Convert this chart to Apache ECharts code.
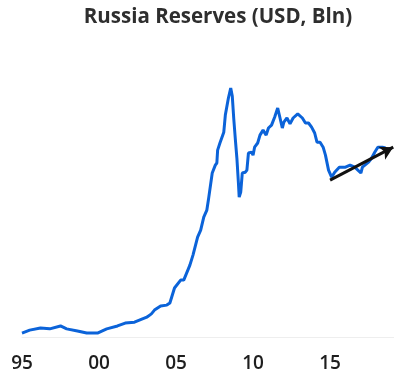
<!DOCTYPE html>
<html>
<head>
<meta charset="utf-8">
<script src="https://cdn.jsdelivr.net/npm/echarts@6/dist/echarts.min.js"></script>
<style>
  html, body { margin: 0; padding: 0; background: #ffffff; }
  #chart { width: 394px; height: 375px; }
</style>
</head>
<body>
<div id="chart"></div>
<script>
// Russia's international reserves, USD billions (decimal year, value)
const years = [
  1995.0, 1995.5, 1996.2, 1996.8, 1997.5, 1997.9, 1998.6, 1999.2, 1999.9, 2000.5,
  2001.2, 2001.7, 2002.3, 2003.1, 2003.4, 2003.6, 2004.0, 2004.4, 2004.6, 2004.9,
  2005.3, 2005.5, 2005.9, 2006.1, 2006.4, 2006.6, 2006.8, 2007.0, 2007.1, 2007.35,
  2007.55, 2007.65, 2007.7, 2007.85, 2008.1, 2008.2, 2008.4, 2008.55, 2008.65, 2008.75,
  2008.85, 2008.95, 2009.05, 2009.1, 2009.2, 2009.3, 2009.5, 2009.6, 2009.7, 2009.9,
  2010.0, 2010.1, 2010.3, 2010.45, 2010.65, 2010.85, 2011.0, 2011.2, 2011.4, 2011.6,
  2011.75, 2011.9, 2012.0, 2012.2, 2012.4, 2012.6, 2012.9, 2013.2, 2013.4, 2013.6,
  2013.8, 2014.0, 2014.15, 2014.35, 2014.55, 2014.7, 2014.9, 2015.1, 2015.3, 2015.6,
  2016.0, 2016.3, 2016.6, 2017.0, 2017.1, 2017.5, 2017.7, 2017.9, 2018.1, 2018.4,
  2018.6
];
const reserves = [
  10, 17, 22, 20, 27, 20, 15, 10, 10, 20,
  27, 34, 36, 48, 56, 65, 75, 77, 82, 118,
  137, 137, 173, 197, 240, 257, 288, 305, 329, 394,
  413, 418, 449, 466, 492, 533, 574, 598, 579, 523,
  475, 430, 370, 336, 348, 394, 396, 401, 442, 444,
  437, 456, 466, 485, 497, 485, 502, 509, 528, 550,
  526, 502, 516, 526, 512, 526, 536, 526, 514, 514,
  504, 490, 468, 468, 456, 437, 401, 384, 396, 408,
  408, 413, 408, 394, 408, 420, 430, 444, 456, 456,
  454
];

// Trend arrow from the 2015 low onward: [year, value] start and end
const trendStart = [2015.0, 377];
const trendEnd = [2019.1, 456];

// Axis tick labels shown every five years
const tickYears = [1995, 2000, 2005, 2010, 2015];
const tickLabels = ['95', '00', '05', '10', '15'];

const seriesData = years.map((y, i) => [y, reserves[i]]);

const chart = echarts.init(document.getElementById('chart'));
chart.setOption({
  animation: false,
  backgroundColor: '#ffffff',
  title: {
    text: 'Russia Reserves (USD, Bln)',
    left: 213,
    textAlign: 'center',
    top: 2,
    textStyle: {
      fontFamily: 'Open Sans',
      fontWeight: 'bold',
      fontSize: 20.5,
      color: '#2e2e2e'
    }
  },
  grid: { left: 22, right: 0, top: 70.5, bottom: 37.8 },
  xAxis: {
    type: 'value',
    min: 1995,
    max: 2019.15,
    interval: 5,
    axisLine: { show: true, lineStyle: { color: '#eeeeee', width: 1 } },
    axisTick: { show: false },
    splitLine: { show: false },
    axisLabel: {
      margin: 17,
      fontFamily: 'Open Sans',
      fontWeight: 600,
      fontSize: 19,
      color: '#1e1e1e',
      showMaxLabel: false,
      formatter: v => {
        const i = tickYears.indexOf(Math.round(v));
        return Math.abs(v - Math.round(v)) < 1e-6 && i >= 0 ? tickLabels[i] : '';
      }
    }
  },
  yAxis: {
    type: 'value',
    min: 0,
    max: 640,
    show: false,
    splitLine: { show: false }
  },
  series: [{
    type: 'line',
    data: seriesData,
    showSymbol: false,
    clip: false,
    lineStyle: { color: '#0b63d9', width: 3 },
    markLine: {
      silent: true,
      symbol: ['none', 'arrow'],
      symbolSize: [11, 13],
      label: { show: false },
      lineStyle: { color: '#111111', width: 3, type: 'solid' },
      data: [[{ coord: trendStart }, { coord: trendEnd }]]
    }
  }]
});
</script>
</body>
</html>
